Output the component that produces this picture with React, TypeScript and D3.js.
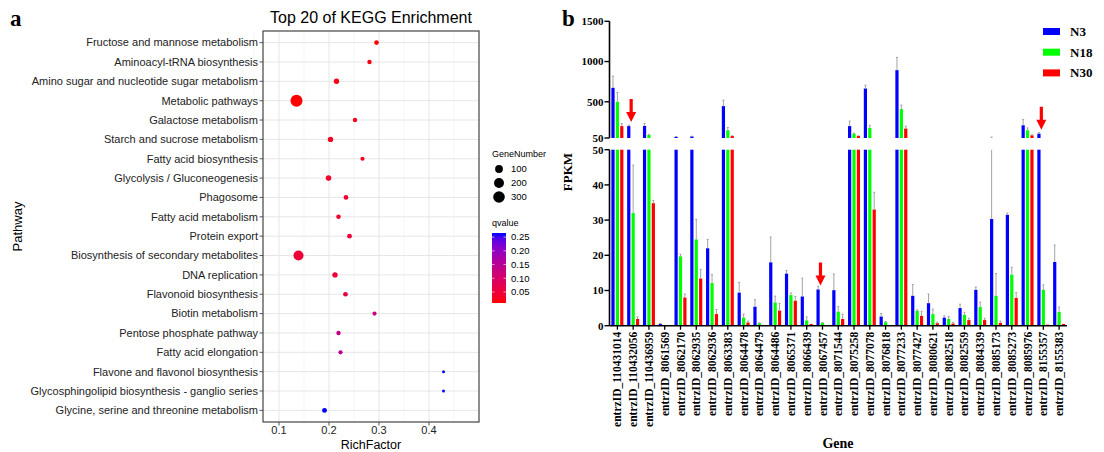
import React from 'react';
import * as d3 from 'd3';

// ---------- Panel a data ----------
const pathways = [
  'Fructose and mannose metabolism',
  'Aminoacyl-tRNA biosynthesis',
  'Amino sugar and nucleotide sugar metabolism',
  'Metabolic pathways',
  'Galactose metabolism',
  'Starch and sucrose metabolism',
  'Fatty acid biosynthesis',
  'Glycolysis / Gluconeogenesis',
  'Phagosome',
  'Fatty acid metabolism',
  'Protein export',
  'Biosynthesis of secondary metabolites',
  'DNA replication',
  'Flavonoid biosynthesis',
  'Biotin metabolism',
  'Pentose phosphate pathway',
  'Fatty acid elongation',
  'Flavone and flavonol biosynthesis',
  'Glycosphingolipid biosynthesis - ganglio series',
  'Glycine, serine and threonine metabolism',
];
const richFactor = [0.295, 0.281, 0.215, 0.135, 0.252, 0.203, 0.267, 0.199, 0.234, 0.219, 0.241, 0.139, 0.212, 0.233, 0.291, 0.219, 0.223, 0.429, 0.429, 0.191];
const geneNumber = [20, 16, 31, 330, 16, 30, 14, 34, 20, 18, 20, 205, 30, 20, 13, 16, 14, 8, 8, 22];
const qValue = [0.012, 0.015, 0.02, 0.0096, 0.025, 0.03, 0.03, 0.035, 0.04, 0.04, 0.05, 0.05, 0.05, 0.06, 0.12, 0.13, 0.15, 0.265, 0.265, 0.265];
const richTicks = [0.1, 0.2, 0.3, 0.4];
const richMinor = [0.05, 0.15, 0.25, 0.35, 0.45];
const sizeLegend = [100, 200, 300];
const qTicks = [0.05, 0.1, 0.15, 0.2, 0.25];

// ---------- Panel b data ----------
const genes = [
  'entrzID_110431014', 'entrzID_110432056', 'entrzID_110436959', 'entrzID_8061569', 'entrzID_8062170',
  'entrzID_8062935', 'entrzID_8062936', 'entrzID_8063383', 'entrzID_8064478', 'entrzID_8064479',
  'entrzID_8064486', 'entrzID_8065371', 'entrzID_8066439', 'entrzID_8067457', 'entrzID_8071544',
  'entrzID_8075258', 'entrzID_8077078', 'entrzID_8076818', 'entrzID_8077233', 'entrzID_8077427',
  'entrzID_8080621', 'entrzID_8082518', 'entrzID_8082559', 'entrzID_8084339', 'entrzID_8085173',
  'entrzID_8085273', 'entrzID_8085976', 'entrzID_8155357', 'entrzID_8155383',
];
const seriesNames = ['N3', 'N18', 'N30'];
const seriesColors = ['#0000FF', '#00FF00', '#FF0000'];
const n3 = [674, 198, 200, 0.5, 65, 70, 22, 446, 9.4, 5.4, 18, 14.8, 8.3, 10.3, 10.1, 198, 665, 2.6, 893, 8.5, 6.4, 2.3, 5, 10.2, 30.3, 31.5, 208, 104, 18.1];
const n3Top = [818, 210, 230, 0.6, 68, 72, 24.5, 520, 12.3, 7.4, 25.2, 15.7, 13.5, 11.2, 14.7, 260, 706, 3.5, 1050, 11.7, 9, 2.8, 6.1, 11, 62, 32, 279, 116, 22.9];
const n18 = [500, 32, 87, 0.1, 19.7, 24.5, 12.1, 146, 2.3, 0.7, 6.6, 8.7, 1.5, 0.8, 4.0, 104, 175, 1.0, 409, 4.2, 3.3, 1.9, 3.1, 5.3, 8.5, 14.5, 146, 10.2, 3.9];
const n18Top = [616, 45.6, 95, 0.1, 20.3, 30.2, 14.5, 180, 3.3, 0.8, 8.4, 9.3, 2.5, 0.9, 5.4, 110, 208, 1.2, 459, 4.5, 4.7, 2.6, 3.8, 6.7, 14.8, 16.6, 175, 11.6, 5.3];
const n30 = [198, 1.9, 34.8, 0, 8.0, 13.4, 3.3, 75, 0.9, 0, 4.3, 7.1, 0.5, 0, 1.9, 75, 33, 0.2, 167, 2.8, 0.7, 0.6, 1.6, 1.6, 0.8, 7.9, 83, 0.3, 0.5];
const n30Top = [231, 2.5, 35.6, 0, 9.0, 16, 4.6, 78, 1.3, 0, 6.3, 8.3, 0.5, 0, 3.3, 78, 37.9, 0.2, 196, 4.1, 1, 0.9, 2.1, 2.1, 1.3, 9.4, 90, 0.3, 0.5];
const arrowGenes = ['entrzID_110432056', 'entrzID_8067457', 'entrzID_8155357'];
const lowTicks = [0, 10, 20, 30, 40, 50];
const highTicks = [50, 500, 1000, 1500];

const SANS = '"Liberation Sans", Arial, Helvetica, sans-serif';
const SERIF = '"Liberation Serif", "Times New Roman", serif';

export default function App() {
  // ---------- Panel a scales ----------
  const left = 263, right = 479, top = 31, bottom = 422;
  const ax = d3.scaleLinear().domain([0.068, 0.5]).range([left, right]);
  const ay = d3.scalePoint<string>().domain(pathways).range([top, bottom]).padding(0.6);
  const minG = d3.min(geneNumber) as number;
  const maxG = d3.max(geneNumber) as number;
  const rad = (n: number) => 1.5 + 4.5 * Math.sqrt(Math.max(0, n - minG) / (maxG - minG));
  const qMin = d3.min(qValue) as number;
  const qMax = d3.max(qValue) as number;
  const colorScale = d3.scaleLinear<string>().domain([qMin, qMax]).range(['#FF0000', '#0000FF']).interpolate(d3.interpolateLab);
  const cbTop = 233, cbBottom = 303, cbX = 492, cbW = 14;
  const qy = d3.scaleLinear().domain([qMin, qMax]).range([cbBottom, cbTop]);
  const gradStops = d3.range(0, 1.0001, 0.1);

  // ---------- Panel b scales ----------
  const bLeft = 609.5, bRight = 1067;
  const xb = d3.scaleBand<string>().domain(genes).range([bLeft, bRight]);
  const xs = d3.scaleBand<string>().domain(seriesNames).range([0, xb.bandwidth()]).paddingInner(0.27).paddingOuter(0.43);
  const yLow = d3.scaleLinear().domain([0, 50]).range([325.7, 149.7]);
  const yHigh = d3.scaleLinear().domain([50, 1500]).range([138, 21.3]);
  const vals = [n3, n18, n30];
  const tops = [n3Top, n18Top, n30Top];

  const yOf = (v: number) => (v <= 50 ? yLow(v) : yHigh(v));

  const bars: React.ReactNode[] = [];
  const errs: React.ReactNode[] = [];
  genes.forEach((g, gi) => {
    seriesNames.forEach((s, si) => {
      const v = vals[si][gi];
      const e = tops[si][gi];
      const x = (xb(g) as number) + (xs(s) as number);
      const w = xs.bandwidth();
      const cx = x + w / 2;
      const lowV = Math.min(v, 50);
      if (lowV > 0) {
        bars.push(<rect key={`bl-${gi}-${si}`} x={x} y={yLow(lowV)} width={w} height={yLow(0) - yLow(lowV)} fill={seriesColors[si]} />);
      }
      if (v > 50) {
        bars.push(<rect key={`bh-${gi}-${si}`} x={x} y={yHigh(v)} width={w} height={yHigh(50) - yHigh(v)} fill={seriesColors[si]} />);
      }
      if (e > v) {
        const segs: [number, number][] = [];
        if (e <= 50) segs.push([yLow(v), yLow(e)]);
        else if (v <= 50) { segs.push([yLow(v), yLow(50)]); segs.push([yHigh(50), yHigh(e)]); }
        else segs.push([yHigh(v), yHigh(e)]);
        segs.forEach((sg, k) => {
          errs.push(<line key={`e-${gi}-${si}-${k}`} x1={cx} x2={cx} y1={sg[0]} y2={sg[1]} stroke="#9a9a9a" strokeWidth={0.9} />);
        });
        errs.push(<line key={`ec-${gi}-${si}`} x1={cx - 1} x2={cx + 1} y1={yOf(e)} y2={yOf(e)} stroke="#9a9a9a" strokeWidth={0.9} />);
      }
    });
  });

  const arrows = arrowGenes.map((g) => {
    const gi = genes.indexOf(g);
    const x = (xb(g) as number) + xb.bandwidth() / 2 - 2;
    const tip = yOf(n3[gi]) - 4;
    const len = 23;
    const hw = 5, hh = 10, sw = 1.6;
    const d = `M${x - sw},${tip - len} L${x + sw},${tip - len} L${x + sw},${tip - hh} L${x + hw},${tip - hh} L${x},${tip} L${x - hw},${tip - hh} L${x - sw},${tip - hh} Z`;
    return <path key={`arr-${g}`} d={d} fill="#FF0000" />;
  });

  return (
    <svg width={1104} height={452} style={{ position: 'absolute', left: 0, top: 0, background: '#fff' }}>
      <defs>
        <linearGradient id="qgrad" x1="0" y1="1" x2="0" y2="0">
          {gradStops.map((t) => (
            <stop key={t} offset={`${t * 100}%`} stopColor={colorScale(qMin + t * (qMax - qMin))} />
          ))}
        </linearGradient>
      </defs>
      <rect x={0} y={0} width={1104} height={452} fill="#fff" />

      {/* ================= Panel a ================= */}
      <text x={10} y={26} fontFamily={SERIF} fontWeight="bold" fontSize={23} fill="#000">a</text>
      <text x={(left + right) / 2} y={23} textAnchor="middle" fontFamily={SANS} fontSize={16} fill="#000">Top 20 of KEGG Enrichment</text>
      {richMinor.map((t) => (
        <line key={`mn-${t}`} x1={ax(t)} x2={ax(t)} y1={top} y2={bottom} stroke="#F2F2F2" strokeWidth={0.6} />
      ))}
      {richTicks.map((t) => (
        <line key={`mj-${t}`} x1={ax(t)} x2={ax(t)} y1={top} y2={bottom} stroke="#E6E6E6" strokeWidth={1} />
      ))}
      {pathways.map((p) => (
        <line key={`hg-${p}`} x1={left} x2={right} y1={ay(p)} y2={ay(p)} stroke="#E6E6E6" strokeWidth={1} />
      ))}
      {pathways.map((p, i) => (
        <circle key={`pt-${p}`} cx={ax(richFactor[i])} cy={ay(p)} r={rad(geneNumber[i])} fill={colorScale(qValue[i])} />
      ))}
      <rect x={left} y={top} width={right - left} height={bottom - top} fill="none" stroke="#444" strokeWidth={1.2} />
      {pathways.map((p) => (
        <g key={`yt-${p}`}>
          <line x1={left - 3.5} x2={left} y1={ay(p)} y2={ay(p)} stroke="#444" strokeWidth={0.9} />
          <text x={left - 5} y={ay(p)} dy="0.35em" textAnchor="end" fontFamily={SANS} fontSize={11} fill="#222">{p}</text>
        </g>
      ))}
      {richTicks.map((t) => (
        <g key={`xt-${t}`}>
          <line x1={ax(t)} x2={ax(t)} y1={bottom} y2={bottom + 3.5} stroke="#444" strokeWidth={0.9} />
          <text x={ax(t)} y={bottom + 12} textAnchor="middle" fontFamily={SANS} fontSize={11} fill="#222">{t.toFixed(1)}</text>
        </g>
      ))}
      <text x={(left + right) / 2} y={449} textAnchor="middle" fontFamily={SANS} fontSize={12.5} fill="#000">RichFactor</text>
      <text transform={`translate(22,${(top + bottom) / 2}) rotate(-90)`} textAnchor="middle" fontFamily={SANS} fontSize={13} fill="#000">Pathway</text>

      <text x={492} y={157} fontFamily={SANS} fontSize={9} fill="#000">GeneNumber</text>
      {sizeLegend.map((n, i) => (
        <g key={`sl-${n}`}>
          <circle cx={499} cy={169 + i * 14} r={rad(n)} fill="#000" />
          <text x={511} y={169 + i * 14} dy="0.35em" fontFamily={SANS} fontSize={9.5} fill="#000">{n}</text>
        </g>
      ))}
      <text x={492} y={226} fontFamily={SANS} fontSize={9} fill="#000">qvalue</text>
      <rect x={cbX} y={cbTop} width={cbW} height={cbBottom - cbTop} fill="url(#qgrad)" />
      {qTicks.map((t) => (
        <g key={`qt-${t}`}>
          <line x1={cbX} x2={cbX + 2.5} y1={qy(t)} y2={qy(t)} stroke="#fff" strokeWidth={0.6} />
          <line x1={cbX + cbW - 2.5} x2={cbX + cbW} y1={qy(t)} y2={qy(t)} stroke="#fff" strokeWidth={0.6} />
          <text x={511} y={qy(t)} dy="0.35em" fontFamily={SANS} fontSize={9.5} fill="#000">{t.toFixed(2)}</text>
        </g>
      ))}

      {/* ================= Panel b ================= */}
      <text x={562} y={26} fontFamily={SERIF} fontWeight="bold" fontSize={23} fill="#000">b</text>
      {bars}
      {errs}
      {arrows}
      <line x1={bLeft} x2={bLeft} y1={yHigh(1500)} y2={yHigh(50)} stroke="#000" strokeWidth={1.6} />
      <line x1={bLeft} x2={bLeft} y1={yLow(50)} y2={yLow(0)} stroke="#000" strokeWidth={1.6} />
      {highTicks.map((t) => (
        <g key={`ht-${t}`}>
          <line x1={bLeft - 5} x2={bLeft} y1={yHigh(t)} y2={yHigh(t)} stroke="#000" strokeWidth={1.4} />
          <text x={bLeft - 6} y={yHigh(t)} dy="0.35em" textAnchor="end" fontFamily={SERIF} fontWeight="bold" fontSize={11} fill="#000">{t}</text>
        </g>
      ))}
      {lowTicks.map((t) => (
        <g key={`lt-${t}`}>
          <line x1={bLeft - 5} x2={bLeft} y1={yLow(t)} y2={yLow(t)} stroke="#000" strokeWidth={1.4} />
          <text x={bLeft - 6} y={yLow(t)} dy="0.35em" textAnchor="end" fontFamily={SERIF} fontWeight="bold" fontSize={11} fill="#000">{t}</text>
        </g>
      ))}
      <line x1={bLeft} x2={bRight} y1={yLow(0)} y2={yLow(0)} stroke="#000" strokeWidth={1.6} />
      {genes.map((g) => {
        const cx = (xb(g) as number) + xb.bandwidth() / 2;
        return (
          <g key={`gx-${g}`}>
            <line x1={cx} x2={cx} y1={yLow(0)} y2={yLow(0) + 4} stroke="#000" strokeWidth={1.3} />
            <text transform={`translate(${cx},${yLow(0) + 6}) rotate(-90)`} dy="0.35em" textAnchor="end" fontFamily={SERIF} fontWeight="bold" fontSize={11.5} fill="#000">{g}</text>
          </g>
        );
      })}
      <text x={838} y={448} textAnchor="middle" fontFamily={SERIF} fontWeight="bold" fontSize={14} fill="#000">Gene</text>
      <text transform="translate(572,172) rotate(-90)" textAnchor="middle" fontFamily={SERIF} fontWeight="bold" fontSize={13} fill="#000">FPKM</text>
      {seriesNames.map((s, i) => (
        <g key={`lg-${s}`}>
          <rect x={1043} y={28 + i * 20.7} width={17} height={7} fill={seriesColors[i]} />
          <text x={1070} y={31.5 + i * 20.7} dy="0.35em" fontFamily={SERIF} fontWeight="bold" fontSize={13} fill="#000">{s}</text>
        </g>
      ))}
    </svg>
  );
}
